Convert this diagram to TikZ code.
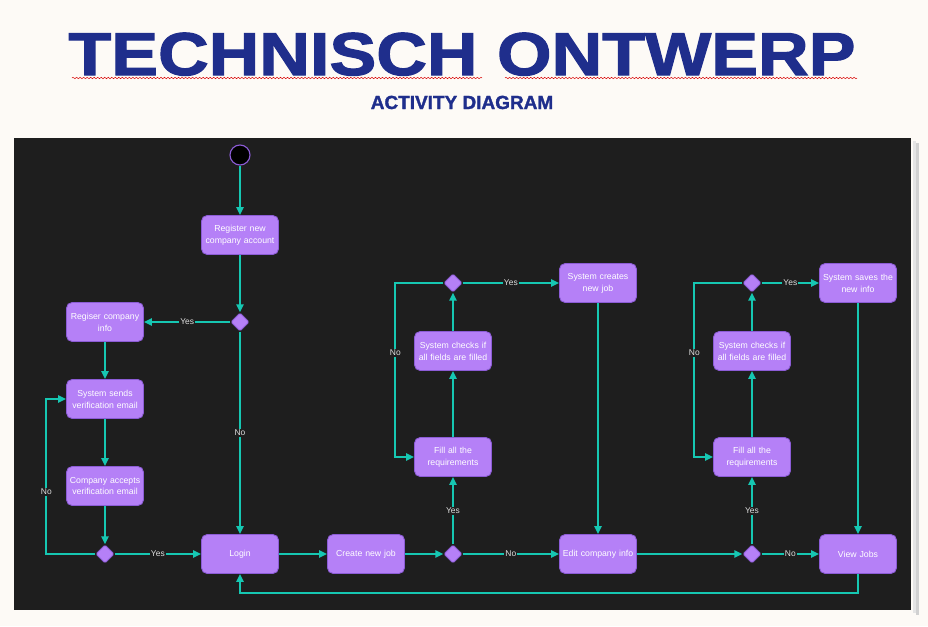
\documentclass[tikz,border=0pt]{standalone}
\usepackage{fontspec}
\setmainfont{Liberation Sans}
\newfontfamily\titlefont[BoldFeatures={FakeBold=2, FakeStretch=1.16}]{Liberation Sans}
\newfontfamily\subtitlefont[BoldFeatures={FakeBold=1.5}]{Liberation Sans}
\usetikzlibrary{arrows.meta, positioning, shapes.geometric, decorations.pathmorphing}
\definecolor{titleblue}{RGB}{31,46,140}
\definecolor{paper}{RGB}{253,250,246}
\definecolor{board}{RGB}{30,30,30}
\definecolor{actfill}{RGB}{181,128,247}
\definecolor{actdraw}{RGB}{140,92,214}
\definecolor{flowteal}{RGB}{22,199,178}
\definecolor{lbltext}{RGB}{222,222,222}

\begin{document}
\begin{tikzpicture}[
    x=0.025cm, y=-0.025cm,
    act/.style    = {rectangle, rounded corners=4pt, draw=actdraw, line width=0.6pt,
                     fill=actfill, minimum width=1.925cm, minimum height=0.975cm,
                     text width=1.85cm, align=center, inner sep=1pt, text=white,
                     font=\fontsize{6.2}{8.4}\selectfont},
    choice/.style = {diamond, aspect=1, draw=actdraw, line width=0.6pt, fill=actfill,
                     inner sep=0pt, minimum width=0.46cm, minimum height=0.46cm,
                     rounded corners=1pt},
    flow/.style   = {-{Triangle[length=2mm, width=1.8mm]}, draw=flowteal, line width=1.5pt},
    lbl/.style    = {fill=board, text=lbltext, inner sep=0.8pt,
                     font=\fontsize{6}{7}\selectfont},
    squiggle/.style = {red!85!black, line width=0.35pt, decorate,
                     decoration={snake, amplitude=0.5pt, segment length=2.5pt}},
]

% Page and board
\fill[paper] (0,0) rectangle (928,626);
\useasboundingbox (0,0) rectangle (928,626);
\fill[black!18] (916,143) rectangle (919,615);
\fill[black!10] (913,141) rectangle (916,613);
\fill[board] (14,138) rectangle (911,610);

% Heading
\node[font=\titlefont\bfseries\fontsize{43}{46}\selectfont, text=titleblue,
      anchor=base, inner sep=0pt] (title) at (462,75) {TECHNISCH ONTWERP};
\draw[squiggle] (72,78) -- (482,78);
\draw[squiggle] (505,78) -- (857,78);
\node[font=\subtitlefont\bfseries\fontsize{13.5}{15}\selectfont, text=titleblue,
      anchor=base, inner sep=0pt] (subtitle) at (462,109) {ACTIVITY DIAGRAM};

% Registration branch
\node[circle, draw=actdraw, fill=black, line width=0.8pt, minimum size=0.5cm,
      inner sep=0pt] (start) at (240,155) {};
\node[act]    (register) at (240,235) {Register new\\company account};
\node[choice] (d1)       at (240,322) {};
\node[act]    (info)     at (105,322) {Regiser company\\info};
\node[act]    (sends)    at (105,399) {System sends\\verification email};
\node[act]    (accepts)  at (105,486) {Company accepts\\verification email};
\node[choice] (d2)       at (105,554) {};

% Main row
\node[act]    (login)    at (240,554) {Login};
\node[act]    (newjob)   at (366,554) {Create new job};
\node[choice] (d3)       at (453,554) {};
\node[act]    (edit)     at (598,554) {Edit company info};
\node[choice] (d5)       at (752,554) {};
\node[act]    (jobs)     at (858,554) {View Jobs};

% Job loop
\node[act]    (fillA)    at (453,457) {Fill all the\\requirements};
\node[act]    (checkA)   at (453,351) {System checks if\\all fields are filled};
\node[choice] (d4)       at (453,283) {};
\node[act]    (creates)  at (598,283) {System creates\\new job};

% Info loop
\node[act]    (fillB)    at (752,457) {Fill all the\\requirements};
\node[act]    (checkB)   at (752,351) {System checks if\\all fields are filled};
\node[choice] (d6)       at (752,283) {};
\node[act]    (saves)    at (858,283) {System saves the\\new info};

% Registration flow
\draw[flow] (start) -- (register);
\draw[flow] (register) -- (d1);
\draw[flow] (d1) -- (info) node[midway, lbl] {Yes};
\draw[flow] (d1) -- (login) node[midway, lbl] {No};
\draw[flow] (info) -- (sends);
\draw[flow] (sends) -- (accepts);
\draw[flow] (accepts) -- (d2);
\draw[flow] (d2) -- (login) node[midway, lbl] {Yes};
\draw[flow] (d2.west) -- ++(-49,0) |- (sends.west) node[pos=0.2, lbl] {No};

% Main flow
\draw[flow] (login) -- (newjob);
\draw[flow] (newjob) -- (d3);
\draw[flow] (d3) -- (fillA) node[midway, lbl] {Yes};
\draw[flow] (d3) -- (edit) node[midway, lbl] {No};
\draw[flow] (fillA) -- (checkA);
\draw[flow] (checkA) -- (d4);
\draw[flow] (d4) -- (creates) node[midway, lbl] {Yes};
\draw[flow] (d4.west) -- ++(-48,0) |- (fillA.west) node[pos=0.2, lbl] {No};
\draw[flow] (creates) -- (edit);
\draw[flow] (edit) -- (d5);
\draw[flow] (d5) -- (fillB) node[midway, lbl] {Yes};
\draw[flow] (d5) -- (jobs) node[midway, lbl] {No};
\draw[flow] (fillB) -- (checkB);
\draw[flow] (checkB) -- (d6);
\draw[flow] (d6) -- (saves) node[midway, lbl] {Yes};
\draw[flow] (d6.west) -- ++(-48,0) |- (fillB.west) node[pos=0.2, lbl] {No};
\draw[flow] (saves) -- (jobs);
\draw[flow] (jobs.south) -- ++(0,19) -| (login.south);

\end{tikzpicture}
\end{document}
